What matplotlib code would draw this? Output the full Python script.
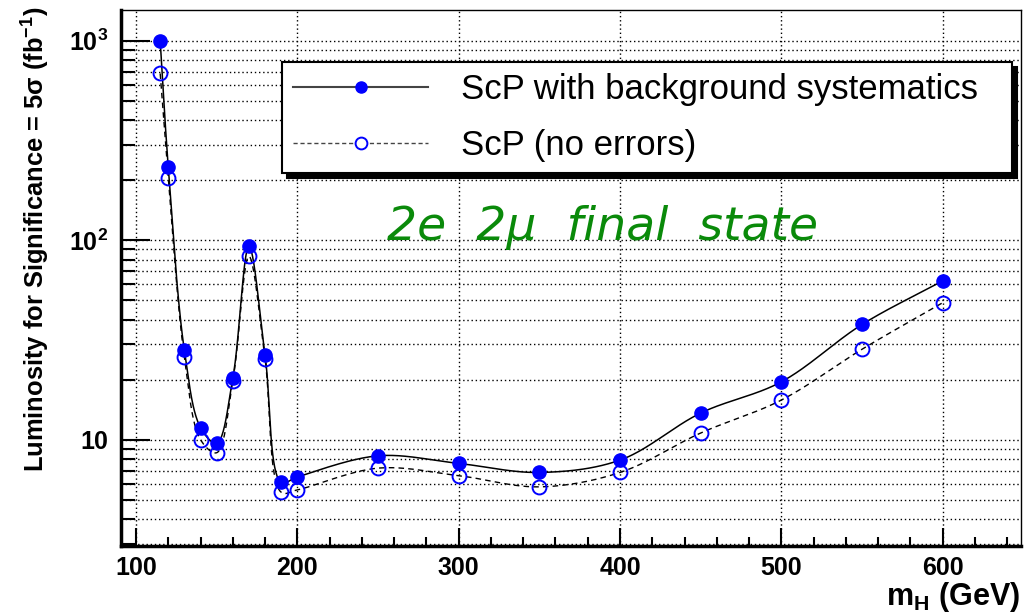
import numpy as np
import matplotlib
matplotlib.use("Agg")
import matplotlib.pyplot as plt
from matplotlib.ticker import LogLocator, MultipleLocator, NullFormatter

# -------------------------------------------
# data --------------------------------------
# -------------------------------------------
mass = [115, 120, 130, 140, 150, 160, 170, 180, 190, 200,
        250, 300, 350, 400, 450, 500, 550, 600]
lumi_syst = [1000, 233, 28.0, 11.5, 9.6, 20.3, 93, 26.5, 6.1, 6.5,
             8.3, 7.6, 6.85, 7.9, 13.6, 19.5, 37.8, 62.5]
lumi_noerr = [685, 206, 25.9, 10.0, 8.6, 19.7, 83, 25.3, 5.45, 5.6,
              7.2, 6.6, 5.8, 6.85, 10.8, 15.8, 28.4, 48.6]

label_syst = "ScP with background systematics"
label_noerr = "ScP (no errors)"
ytick_vals = [10, 100, 1000]
ytick_labels = [r"10", r"10$^{\mathbf{2}}$", r"10$^{\mathbf{3}}$"]

plt.rcParams["font.family"] = ["Liberation Sans", "DejaVu Sans"]
plt.rcParams["mathtext.fontset"] = "custom"
plt.rcParams["mathtext.rm"] = "Liberation Sans"
plt.rcParams["mathtext.bf"] = "Liberation Sans:bold"
plt.rcParams["mathtext.it"] = "Liberation Sans:italic"

# pixel scale of the pad (px per GeV, px per decade), used for the smooth curve
PX_X = 1.614
PX_Y = 199.3


def smooth_curve(x, y, n=40, alpha=0.5):
    # centripetal Catmull-Rom through the points, worked out in pad pixels
    P = np.column_stack([np.asarray(x, float) * PX_X,
                         np.log10(np.asarray(y, float)) * PX_Y])
    pts = np.vstack([2 * P[0] - P[1], P, 2 * P[-1] - P[-2]])
    out = []
    for i in range(len(pts) - 3):
        p0, p1, p2, p3 = pts[i:i + 4]
        t0 = 0.0
        t1 = t0 + np.linalg.norm(p1 - p0) ** alpha
        t2 = t1 + np.linalg.norm(p2 - p1) ** alpha
        t3 = t2 + np.linalg.norm(p3 - p2) ** alpha
        t = np.linspace(t1, t2, n)[:, None]
        a1 = (t1 - t) / (t1 - t0) * p0 + (t - t0) / (t1 - t0) * p1
        a2 = (t2 - t) / (t2 - t1) * p1 + (t - t1) / (t2 - t1) * p2
        a3 = (t3 - t) / (t3 - t2) * p2 + (t - t2) / (t3 - t2) * p3
        b1 = (t2 - t) / (t2 - t0) * a1 + (t - t0) / (t2 - t0) * a2
        b2 = (t3 - t) / (t3 - t1) * a2 + (t - t1) / (t3 - t1) * a3
        c = (t2 - t) / (t2 - t1) * b1 + (t - t1) / (t2 - t1) * b2
        out.append(c)
    c = np.vstack(out)
    return c[:, 0] / PX_X, 10 ** (c[:, 1] / PX_Y)


fig = plt.figure(figsize=(10.26, 6.14), dpi=100)
ax = fig.add_axes([0.1176, 0.1107, 0.8775, 0.873])

ax.set_yscale("log")
ax.set_xlim(90.5, 648.5)
ax.set_ylim(2.93, 1425)

# curves
xs, ys = smooth_curve(mass, lumi_syst)
ax.plot(xs, ys, color="black", lw=1.1, zorder=3)
xs, ys = smooth_curve(mass, lumi_noerr)
ax.plot(xs, ys, color="black", lw=1.0, dashes=(4, 3), zorder=3)

ax.plot(mass, lumi_syst, ls="none", marker="o", ms=9.5, color="#0000ff", zorder=4)
ax.plot(mass, lumi_noerr, ls="none", marker="o", ms=10, mfc="none",
        mec="#0000ff", mew=1.4, zorder=4)

# legend proxies
h1, = ax.plot([], [], color="#444444", lw=1.5, marker="o", ms=8, mfc="#0000ff", mec="#0000ff")
h2, = ax.plot([], [], color="#444444", lw=1.0, dashes=(3, 2), marker="o", ms=8.5,
              mfc="white", mec="#0000ff", mew=1.4)
leg = ax.legend([h1, h2], [label_syst, label_noerr], loc="upper left",
                bbox_to_anchor=(0.179, 0.903, 0.811, 0.0), mode="expand",
                borderaxespad=0, fontsize=25, handlelength=3.9, handletextpad=0.95,
                labelspacing=0.66, borderpad=0.32, fancybox=False, framealpha=1,
                edgecolor="black",
                shadow={"ox": 3.6, "oy": -3.6, "shade": 1.0, "alpha": 1.0})
leg.get_frame().set_linewidth(1.5)
leg.set_zorder(6)

# grid
ax.grid(axis="x", which="major", color="black", ls=(0, (1, 2)), lw=1.0)
ax.grid(axis="y", which="both", color="black", ls=(0, (1, 2)), lw=1.0)
ax.set_axisbelow(True)

# ticks
ax.xaxis.set_major_locator(MultipleLocator(100))
ax.xaxis.set_minor_locator(MultipleLocator(20))
ax.yaxis.set_major_locator(LogLocator(base=10))
ax.yaxis.set_minor_locator(LogLocator(base=10, subs=np.arange(2, 10)))
ax.yaxis.set_minor_formatter(NullFormatter())
ax.set_yticks(ytick_vals)
ax.set_yticklabels(ytick_labels)
ax.tick_params(axis="both", which="both", direction="in", width=1.5, colors="black")
ax.tick_params(axis="x", which="major", length=13, pad=7, labelsize=18)
ax.tick_params(axis="x", which="minor", length=6.5)
ax.tick_params(axis="y", which="major", length=21, pad=9, labelsize=18)
ax.tick_params(axis="y", which="minor", length=10)
for lab in ax.get_xticklabels() + ax.get_yticklabels():
    lab.set_fontweight("bold")

for s in ["left", "bottom"]:
    ax.spines[s].set_linewidth(2.5)
for s in ["top", "right"]:
    ax.spines[s].set_linewidth(1.0)

ax.set_ylabel("Luminosity for Significance = 5σ (fb$^{\\mathbf{-1}}$)",
              fontsize=18.4, fontweight="bold")
ax.yaxis.set_label_coords(-0.076, 0.573)

fig.text(1020 / 1026, 1 - 605 / 614, "m$_{\\mathbf{H}}$ (GeV)", fontsize=22,
         fontweight="bold", ha="right", va="baseline")

fig.text(387 / 1026, 1 - 240 / 614, "2e  2μ  final  state", color="#0a8a0a",
         fontsize=34, style="italic", family="DejaVu Sans", va="baseline", ha="left")

fig.savefig("out.png", dpi=100)
